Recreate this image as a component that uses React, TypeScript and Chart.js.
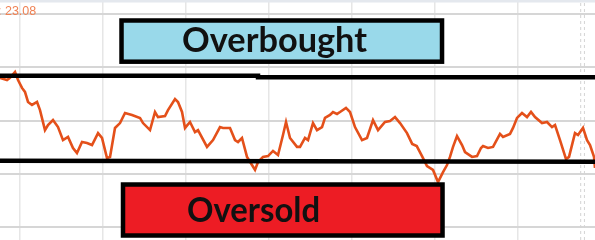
import React, { useEffect, useRef } from "react";
import { Chart, registerables } from "chart.js";

Chart.register(...registerables);

// RSI trace (x = trading day, y = RSI value)
const rsiDays = [
  -4.82, -3.13, -2.41, -1.2, -0.48, 0.48, 1.2, 1.93, 2.89, 4.1, 4.82, 6.02, 6.75, 7.95, 9.16, 10.36,
  11.57, 12.77, 13.73, 14.94, 16.14, 17.35, 18.8, 19.76, 20.96, 21.69, 22.89, 24.1, 25.3, 26.99,
  28.92, 29.64, 31.33, 32.53, 33.25, 34.94, 35.66, 37.35, 38.07, 39.04, 39.76, 40.96, 42.17, 42.89,
  45.06, 46.51, 48.19, 48.92, 50.6, 51.81, 52.53, 53.49, 54.7, 55.9, 56.63, 57.35, 58.55, 59.76,
  60.96, 62.17, 63.37, 64.1, 65.06, 66.75, 67.47, 68.67, 69.4, 70.6, 71.57, 72.77, 73.49, 74.7,
  75.42, 76.39, 77.11, 78.55, 79.52, 80.72, 82.41, 83.61, 85.06, 86.27, 87.95, 89.16, 90.36, 91.57,
  93.25, 94.5, 95.6, 96.87, 98.07, 99.52, 100.72, 101.93, 102.89, 103.61, 104.34, 105.3, 106.51,
  107.23, 108.92, 110.12, 111.08, 111.57, 112.77, 113.98, 115.66, 116.39, 118.07, 118.8, 119.76,
  120.96, 122.17, 123.13, 124.1, 125.78, 126.99, 128.19, 128.92, 130.12, 131.57, 132.29, 133.73,
  134.46, 135.66, 136.63, 137.35, 138.31, 138.55,
];
const rsiValues = [
  70.0, 69.0, 70.0, 72.8, 69.0, 65.3, 63.4, 58.7, 57.3, 58.7, 54.9, 45.5, 47.9, 50.2, 46.9, 40.8,
  42.3, 37.1, 34.7, 39.9, 39.4, 38.5, 44.1, 41.8, 32.4, 32.9, 46.5, 48.8, 53.5, 52.6,
  51.2, 48.8, 45.5, 54.0, 51.6, 52.1, 54.9, 60.1, 58.7, 54.0, 46.5, 49.3, 44.6, 45.5,
  37.6, 40.8, 46.9, 46.5, 46.5, 40.8, 39.9, 41.8, 32.9, 29.1, 26.8, 30.5, 32.9, 33.3,
  35.7, 33.8, 43.2, 49.3, 41.8, 37.6, 37.6, 41.8, 40.8, 48.8, 45.5, 46.9, 51.2, 52.6,
  54.0, 53.1, 54.0, 55.9, 54.0, 46.9, 40.8, 41.8, 50.2, 45.5, 49.3, 49.8, 51.6, 48.8,
  44.1, 39.0, 38.0, 33.3, 28.6, 26.8, 21.1, 25.8, 29.1, 32.9, 37.6, 42.7, 38.5,
  35.2, 32.9, 33.3, 37.1, 38.0, 37.1, 37.6, 43.7, 42.3, 43.7, 46.5, 51.2,
  53.5, 51.6, 54.0, 51.6, 48.8, 49.3, 46.9, 47.9, 40.8, 31.9, 32.9, 44.1,
  43.2, 46.5, 40.8, 38.5, 32.9, 27.7,
];

// Overbought / oversold threshold lines
const overboughtDays = [-4.82, 57.35, 57.35, 138.55];
const overboughtValues = [70.99, 70.99, 70.28, 70.28];
const oversoldDays = [-4.82, 138.55];
const oversoldValues = [31.08, 30.66];

// Dashed marker lines near the right edge
const markerDays = [135.1, 136.0];

// Axis ranges and grid ticks
const xRange = [-4.82, 138.55];
const yRange = [-6.1, 106.57];
const xGridTicks = [0, 20, 40, 60, 80, 100, 120];
const yGridTicks = [0, 25, 50, 75, 100];

// Zone boxes: [xStart, xEnd, yTop, yBottom] in data units
const boxNames = ["Overbought", "Oversold"];
const boxRects = [
  [24.46, 101.69, 96.95, 77.61],
  [24.82, 101.81, 19.95, -3.99],
];
const boxColors = ["#99d9ea", "#ed1c24"];
// label: [xStart, xEnd, baselineValue]
const boxLabelPos = [
  [39.04, 83.61, 82.16],
  [40.24, 72.29, 2.35],
];

const priceLabel = ": 23.08";
const priceLabelPos = [-5.3, 99.6];

export default function App() {
  const ref = useRef<HTMLCanvasElement | null>(null);

  useEffect(() => {
    document.body.style.margin = "0";
    const canvas = ref.current;
    if (!canvas) return;

    const overlay = {
      id: "zones",
      beforeDatasetsDraw(chart: any) {
        const { ctx, chartArea } = chart;
        ctx.save();
        ctx.fillStyle = "#e4e8ee";
        ctx.fillRect(chartArea.left, chartArea.top, chartArea.right - chartArea.left, 2.5);
        ctx.restore();
      },
      afterDatasetsDraw(chart: any) {
        const { ctx } = chart;
        const xs = chart.scales.x;
        const ys = chart.scales.y;
        ctx.save();
        boxRects.forEach((r, i) => {
          const x0 = xs.getPixelForValue(r[0]);
          const x1 = xs.getPixelForValue(r[1]);
          const y0 = ys.getPixelForValue(r[2]);
          const y1 = ys.getPixelForValue(r[3]);
          ctx.fillStyle = boxColors[i];
          ctx.fillRect(x0, y0, x1 - x0, y1 - y0);
          ctx.lineWidth = 4.5;
          ctx.strokeStyle = "#000";
          ctx.strokeRect(x0, y0, x1 - x0, y1 - y0);

          const lp = boxLabelPos[i];
          const lx0 = xs.getPixelForValue(lp[0]);
          const lx1 = xs.getPixelForValue(lp[1]);
          const ly = ys.getPixelForValue(lp[2]);
          ctx.font = "bold 35px Lato, 'Open Sans', sans-serif";
          ctx.fillStyle = "#111";
          ctx.textBaseline = "alphabetic";
          ctx.textAlign = "left";
          const w = ctx.measureText(boxNames[i]).width;
          const sx = (lx1 - lx0) / w;
          ctx.save();
          ctx.translate(lx0, ly);
          ctx.scale(sx, 1);
          ctx.fillText(boxNames[i], 0, 0);
          ctx.restore();
        });
        ctx.font = "12.5px 'Liberation Sans', Arial, sans-serif";
        ctx.fillStyle = "#f08254";
        ctx.textAlign = "left";
        ctx.textBaseline = "alphabetic";
        ctx.fillText(priceLabel, xs.getPixelForValue(priceLabelPos[0]), ys.getPixelForValue(priceLabelPos[1]));
        ctx.restore();
      },
    };

    const markerDatasets = markerDays.map((d) => ({
      data: [
        { x: d, y: yRange[0] },
        { x: d, y: yRange[1] },
      ],
      borderColor: "#d4d4d4",
      borderWidth: 1,
      borderDash: [3, 3],
      pointRadius: 0,
      order: 5,
    }));

    const chart = new Chart(canvas, {
      type: "line",
      data: {
        datasets: [
          ...markerDatasets,
          {
            data: rsiDays.map((d, i) => ({ x: d, y: rsiValues[i] })),
            borderColor: "#e4501a",
            borderWidth: 2.6,
            pointRadius: 0,
            tension: 0,
            order: 3,
          },
          {
            data: overboughtDays.map((d, i) => ({ x: d, y: overboughtValues[i] })),
            borderColor: "#000",
            borderWidth: 4.5,
            pointRadius: 0,
            order: 1,
          },
          {
            data: oversoldDays.map((d, i) => ({ x: d, y: oversoldValues[i] })),
            borderColor: "#000",
            borderWidth: 4.5,
            pointRadius: 0,
            order: 1,
          },
        ] as any,
      },
      options: {
        animation: false,
        responsive: false,
        maintainAspectRatio: false,
        layout: { padding: 0 },
        plugins: { legend: { display: false }, tooltip: { enabled: false } },
        scales: {
          x: {
            type: "linear",
            min: xRange[0],
            max: xRange[1],
            afterBuildTicks: (s: any) => {
              s.ticks = xGridTicks.map((v) => ({ value: v }));
            },
            ticks: { display: false },
            border: { display: false },
            grid: { color: "#e6e6e6", lineWidth: 1.5, drawTicks: false },
          },
          y: {
            type: "linear",
            min: yRange[0],
            max: yRange[1],
            afterBuildTicks: (s: any) => {
              s.ticks = yGridTicks.map((v) => ({ value: v }));
            },
            ticks: { display: false },
            border: { display: false },
            grid: { color: "#d6d6d6", lineWidth: 2, drawTicks: false },
          },
        },
      },
      plugins: [overlay],
    });
    return () => chart.destroy();
  }, []);

  return (
    <div style={{ width: 595, height: 240, position: "relative" }}>
      <canvas ref={ref} width={595} height={240} style={{ display: "block", width: 595, height: 240 }} />
    </div>
  );
}
